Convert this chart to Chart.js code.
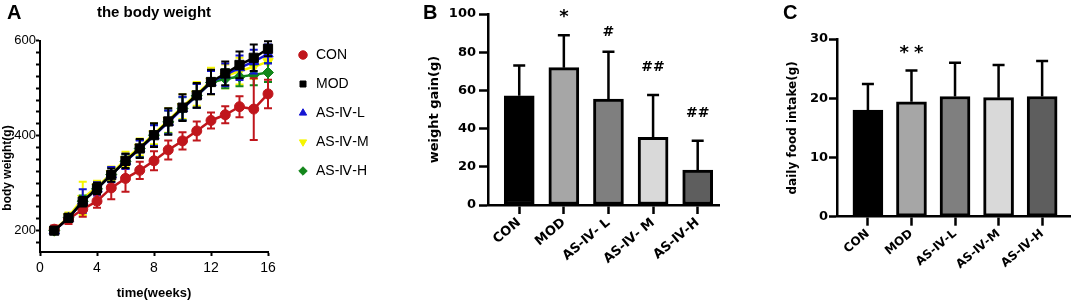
<!DOCTYPE html>
<html><head><meta charset="utf-8">
<script src="https://cdn.jsdelivr.net/npm/chart.js@4.4.0/dist/chart.umd.min.js"></script>
<style>
html,body{margin:0;padding:0;background:#fff;}
#wrap{position:relative;width:1072px;height:305px;overflow:hidden;background:#fff;}
canvas{position:absolute;top:0;}
.lab{position:absolute;font-family:"Liberation Sans",Arial,sans-serif;font-weight:bold;font-size:20px;line-height:20px;color:#000;}
</style></head><body>
<div id="wrap">
<canvas id="cA" width="385" height="305" style="left:0"></canvas>
<canvas id="cB" width="335" height="305" style="left:385px"></canvas>
<canvas id="cC" width="352" height="305" style="left:720px"></canvas>
<div class="lab" style="left:7px;top:2px">A</div>
<div class="lab" style="left:423px;top:2px">B</div>
<div class="lab" style="left:783px;top:2px">C</div>
</div>
<script>
// ---------- Panel A data ----------
const weeks = [1,2,3,4,5,6,7,8,9,10,11,12,13,14,15,16];
const conMean = [203,224,245,262,290,310,327,347,370,389,410,432,444,461,456,488];
const conSD   = [8,10,16,14,24,28,18,20,20,18,20,17,18,22,65,30];
const modMean = [200,227,261,289,317,347,373,401,430,459,485,513,531,549,564,583];
const modSD   = [6,8,10,12,14,15,20,25,28,28,26,26,25,28,28,16];
const lowMean = [200,226,262,288,318,346,372,400,428,457,484,512,528,543,556,572];
const lowSD   = [6,8,25,14,16,16,18,22,25,25,25,24,24,26,25,20];
const midMean = [201,229,268,292,320,350,376,404,432,461,488,515,525,536,545,556];
const midSD   = [6,9,35,13,15,16,18,22,26,26,25,28,25,28,25,22];
const highMean= [200,227,262,288,318,346,373,401,429,457,484,512,520,524,528,533];
const highSD  = [6,8,12,12,15,15,18,22,24,24,25,24,20,20,22,20];
const seriesNames = ['CON','MOD','AS-Ⅳ-L','AS-Ⅳ-M','AS-Ⅳ-H'];
const xTicksA = [0,4,8,12,16];
const yTicksA = [175,200,225,250,275,300,325,350,375,400,425,450,475,500,525,550,575,600];
const yLabelsA = [200,400,600];

// ---------- Panel B data ----------
const catB = ['CON','MOD','AS-Ⅳ- L','AS-Ⅳ- M','AS-Ⅳ-H'];
const gainMean = [57.2,71.9,55.5,35.4,18.3];
const gainSD   = [15.8,17.0,24.8,22.2,15.4];
const sigB     = ['','*','#','##','##'];
const sigLevelB= [null,96,88.5,70,46];

// ---------- Panel C data ----------
const catC = ['CON','MOD','AS-Ⅳ-L','AS-Ⅳ-M','AS-Ⅳ-H'];
const foodMean = [18.0,19.4,20.3,20.1,20.3];
const foodSD   = [4.4,5.3,5.7,5.5,6.0];
const sigC     = ['','**','','',''];
const sigLevelC= [null,26.8,null,null,null];

const barColors = ['#000000','#a6a6a6','#7f7f7f','#d9d9d9','#5e5e5e'];
const NARROW = '"Liberation Sans Narrow","Liberation Sans",Arial,sans-serif';
const ARIAL = '"Liberation Sans",Arial,sans-serif';
const DJ = '"DejaVu Sans",sans-serif';

// error bars for line chart (both directions), drawn beneath each dataset
const lineErr = {
  id:'lineErr',
  beforeDatasetDraw(chart, args){
    const ds = chart.data.datasets[args.index];
    if(!ds.sd) return;
    const meta = chart.getDatasetMeta(args.index);
    const ys = chart.scales.y, ctx = chart.ctx;
    ctx.save();
    ctx.strokeStyle = ds.borderColor; ctx.lineWidth = 2;
    meta.data.forEach((pt,i)=>{
      const v = ds.data[i].y, s = ds.sd[i];
      const x = pt.x, y1 = ys.getPixelForValue(v+s), y2 = ys.getPixelForValue(v-s);
      ctx.beginPath();
      ctx.moveTo(x,y1); ctx.lineTo(x,y2);
      ctx.moveTo(x-4,y1); ctx.lineTo(x+4,y1);
      ctx.moveTo(x-4,y2); ctx.lineTo(x+4,y2);
      ctx.stroke();
    });
    ctx.restore();
  }
};
// move legend block
const legendPlace = {
  id:'legendPlace',
  afterLayout(chart, args, opts){
    const lg = chart.legend; if(!lg) return;
    const h = lg.bottom - lg.top;
    lg.left = opts.left; lg.right = chart.width; lg.width = lg.right - lg.left;
    lg.top = opts.top; lg.bottom = opts.top + h; lg.height = h;
  }
};
// error bars (upward) for bar charts + significance marks
const barErr = {
  id:'barErr',
  afterDatasetsDraw(chart, args, opts){
    const ctx = chart.ctx, xs = chart.scales.x, ys = chart.scales.y;
    const ds = chart.data.datasets[0];
    ctx.save();
    ctx.strokeStyle = '#000'; ctx.lineWidth = 2.5;
    ds.data.forEach((d,i)=>{
      const x = xs.getPixelForValue(d.x);
      const y0 = ys.getPixelForValue(d.y), y1 = ys.getPixelForValue(d.y + ds.sd[i]);
      ctx.beginPath();
      ctx.moveTo(x,y0); ctx.lineTo(x,y1);
      ctx.moveTo(x-6,y1); ctx.lineTo(x+6,y1);
      ctx.stroke();
    });
    ctx.fillStyle = '#000'; ctx.textAlign = 'center'; ctx.textBaseline = 'alphabetic';
    (opts.labels||[]).forEach((t,i)=>{
      if(!t) return;
      ctx.font = t.includes('*') ? 'bold 18px '+DJ : 'bold 14px '+DJ;
      ctx.letterSpacing = t === '**' ? '5px' : '0px';
      ctx.fillText(t, xs.getPixelForValue(i) + (t==='**'?2.5:0), ys.getPixelForValue(opts.levels[i]));
    });
    ctx.restore();
  }
};

function mk(label, mean, sd, color, style, radius, order, rot){
  return {label, data: weeks.map((w,i)=>({x:w,y:mean[i]})), sd,
    borderColor:color, backgroundColor:color, pointBackgroundColor:color, pointBorderColor:color,
    pointStyle:style, pointRadius:radius, pointRotation:rot||0, pointBorderWidth:1,
    borderWidth:2.5, tension:0, order, clip:false};
}

new Chart(document.getElementById('cA'), {
  type:'line',
  data:{datasets:[
    mk(seriesNames[0], conMean, conSD, '#c0161c', 'circle', 5, 1),
    mk(seriesNames[1], modMean, modSD, '#000000', 'rect', 6.5, 0),
    mk(seriesNames[2], lowMean, lowSD, '#1414d2', 'triangle', 6, 2),
    mk(seriesNames[3], midMean, midSD, '#f5f500', 'triangle', 6, 4, 180),
    mk(seriesNames[4], highMean, highSD, '#13861a', 'rectRot', 5.5, 3)
  ]},
  options:{
    responsive:false, animation:false, events:[],
    layout:{padding:{top:0,left:0,right:57,bottom:0}},
    scales:{
      x:{type:'linear', min:0, max:16,
        afterBuildTicks:s=>{s.ticks = xTicksA.map(v=>({value:v}));},
        afterFit:s=>{s.height = 53;},
        border:{color:'#000', width:2},
        grid:{drawOnChartArea:false, tickLength:4, tickColor:'#000', tickWidth:2},
        ticks:{color:'#000', font:{family:NARROW, size:14}, padding:4, maxRotation:0, autoSkip:false},
        title:{display:true, text:'time(weeks)', color:'#000', font:{family:ARIAL, weight:'bold', size:13}, padding:{top:0,bottom:4}}
      },
      y:{type:'linear', min:155, max:600,
        afterBuildTicks:s=>{s.ticks = yTicksA.map(v=>({value:v}));},
        afterFit:s=>{s.width = 40;},
        border:{color:'#000', width:2},
        grid:{drawOnChartArea:false, tickLength:4, tickColor:'#000', tickWidth:2},
        ticks:{color:'#000', font:{family:NARROW, size:13}, padding:0, autoSkip:false,
          callback:v=> yLabelsA.includes(v) ? String(v) : ''},
        title:{display:true, text:'body weight(g)' + '             ', color:'#000', font:{family:ARIAL, weight:'bold', size:12}, padding:{top:0,bottom:0}}
      }
    },
    plugins:{
      title:{display:true, text:'the body weight', fullSize:false, color:'#000', font:{family:ARIAL, weight:'bold', size:15}, padding:{top:3.5,bottom:19.2}},
      legend:{display:true, position:'right', align:'start', maxWidth:60,
        labels:{usePointStyle:true, boxWidth:12, boxHeight:6, padding:15, color:'#000', font:{family:NARROW, size:14},
          sort:(a,b)=>a.datasetIndex-b.datasetIndex}},
      legendPlace:{left:282, top:33},
      tooltip:{enabled:false}
    }
  },
  plugins:[lineErr, legendPlace]
});

function barChart(id, cats, mean, sd, sig, sigLevel, cfg){
  return new Chart(document.getElementById(id), {
    type:'bar',
    data:{datasets:[{data: mean.map((v,i)=>({x:i,y:v})), sd,
      backgroundColor:barColors, borderColor:'#000', borderWidth:3, borderSkipped:false,
      barThickness:30}]},
    options:{
      responsive:false, animation:false, events:[],
      layout:{padding:cfg.padding},
      scales:{
        x:{type:'linear', min:cfg.xmin, max:cfg.xmax, offset:false,
          afterBuildTicks:s=>{s.ticks = cats.map((c,i)=>({value:i}));},
          afterFit:s=>{s.height = cfg.xh;},
          border:{color:'#000', width:2.5},
          grid:{offset:false, drawOnChartArea:false, tickLength:9, tickColor:'#000', tickWidth:2.5},
          ticks:{color:'#000', font:{family:DJ, weight:'bold', size:cfg.xfs}, padding:1, autoSkip:false,
            minRotation:40, maxRotation:40, callback:v=>cats[v]}
        },
        y:{type:'linear', min:0, max:cfg.ymax,
          afterFit:s=>{s.width = cfg.yw;},
          border:{color:'#000', width:2.5},
          grid:{drawOnChartArea:false, tickLength:cfg.ytl, tickColor:'#000', tickWidth:2.5},
          ticks:{color:'#000', stepSize:cfg.step, font:{family:DJ, weight:'bold', size:13}, padding:cfg.ypad},
          title:{display:true, text:cfg.ytitle, color:'#000', font:{family:DJ, weight:'bold', size:cfg.tfs}, padding:{top:cfg.tpad,bottom:0}}
        }
      },
      plugins:{legend:{display:false}, tooltip:{enabled:false}, barErr:{labels:sig, levels:sigLevel}}
    },
    plugins:[barErr]
  });
}

barChart('cB', catB, gainMean, gainSD, sigB, sigLevelB,
  {padding:{top:14,left:0,right:0,bottom:0}, xmin:-0.7, xmax:4.5, xh:100, yw:103, ymax:100, step:20,
   ytl:9, ypad:3, ytitle:'weight gain(g)', tfs:13, tpad:41.7, xfs:13});
barChart('cC', catC, foodMean, foodSD, sigC, sigLevelC,
  {padding:{top:39,left:0,right:2,bottom:0}, xmin:-0.71, xmax:4.64, xh:88.3, yw:117, ymax:30, step:10,
   ytl:8, ypad:1, ytitle:'daily food intake(g)', tfs:12, tpad:65.3, xfs:12});
</script>
</body></html>
